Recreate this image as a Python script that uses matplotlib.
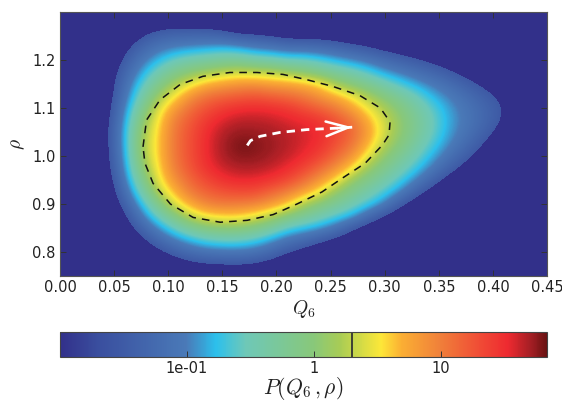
import numpy as np
import matplotlib
matplotlib.use('Agg')
import matplotlib.pyplot as plt
from matplotlib.cm import ScalarMappable
from matplotlib.colors import LinearSegmentedColormap, ListedColormap, LogNorm, Normalize

plt.rcParams['font.family'] = 'DejaVu Sans'
plt.rcParams['mathtext.fontset'] = 'cm'

# estimated 100*log10(P) on a grid, columns Q6 = 0, 0.015 .. 0.45, rows rho = 0.75, 0.775 .. 1.30
q_start, q_step = 0.0, 0.015
rho_start, rho_step = 0.75, 0.025
log_p_percent = [
    [-240, -240, -240, -240, -240, -240, -223, -207, -196, -190, -188, -187, -191, -201, -218, -237, -240, -240, -240, -240, -240, -240, -240, -240, -240, -240, -240, -240, -240, -240, -240],
    [-240, -240, -240, -240, -240, -214, -192, -175, -161, -154, -152, -150, -155, -166, -184, -201, -215, -232, -240, -240, -240, -240, -240, -240, -240, -240, -240, -240, -240, -240, -240],
    [-240, -240, -240, -240, -216, -187, -162, -140, -122, -111, -107, -106, -112, -127, -150, -165, -181, -197, -213, -232, -240, -240, -240, -240, -240, -240, -240, -240, -240, -240, -240],
    [-240, -240, -240, -228, -194, -162, -130, -103, -80, -62, -55, -55, -65, -87, -110, -125, -144, -162, -179, -200, -222, -240, -240, -240, -240, -240, -240, -240, -240, -240, -240],
    [-240, -240, -240, -211, -174, -135, -96, -58, -24, -4, 3, 2, -9, -30, -62, -75, -88, -112, -147, -170, -190, -210, -231, -240, -240, -240, -240, -240, -240, -240, -240],
    [-240, -240, -237, -197, -158, -107, -55, -8, 31, 53, 60, 61, 48, 28, 0, -21, -43, -62, -82, -122, -157, -179, -201, -224, -240, -240, -240, -240, -240, -240, -240],
    [-240, -240, -227, -185, -139, -80, -14, 38, 73, 96, 103, 100, 97, 83, 62, 23, -1, -23, -46, -69, -99, -147, -173, -194, -218, -240, -240, -240, -240, -240, -240],
    [-240, -240, -219, -176, -121, -48, 24, 66, 101, 117, 126, 131, 130, 115, 100, 78, 49, 9, -16, -41, -66, -97, -140, -169, -192, -213, -238, -240, -240, -240, -240],
    [-240, -240, -212, -169, -105, -21, 44, 86, 114, 133, 148, 154, 153, 146, 133, 112, 86, 55, 11, -13, -39, -67, -100, -137, -168, -188, -212, -235, -240, -240, -240],
    [-240, -240, -206, -162, -93, 0, 52, 99, 124, 147, 161, 168, 168, 163, 153, 136, 114, 89, 56, 13, -15, -43, -72, -105, -138, -165, -191, -213, -239, -240, -240],
    [-240, -240, -202, -158, -86, 14, 57, 103, 128, 151, 169, 177, 176, 171, 163, 153, 137, 114, 87, 45, 6, -23, -52, -83, -114, -142, -169, -194, -219, -240, -240],
    [-240, -240, -200, -156, -81, 18, 58, 104, 128, 152, 170, 180, 178, 173, 167, 158, 149, 128, 107, 68, 26, -4, -36, -67, -96, -123, -150, -177, -201, -224, -240],
    [-240, -240, -199, -155, -81, 13, 56, 103, 127, 150, 167, 174, 173, 170, 165, 159, 151, 135, 114, 81, 37, 6, -25, -56, -87, -110, -135, -159, -184, -207, -230],
    [-240, -240, -201, -158, -88, 0, 50, 98, 121, 142, 157, 165, 165, 163, 157, 152, 145, 126, 106, 70, 35, 6, -24, -54, -84, -105, -126, -148, -172, -193, -218],
    [-240, -240, -206, -163, -98, -22, 38, 79, 109, 127, 141, 149, 152, 149, 144, 130, 117, 102, 78, 48, 22, -5, -34, -62, -88, -108, -127, -147, -168, -189, -212],
    [-240, -240, -212, -168, -110, -45, 11, 50, 86, 107, 115, 120, 125, 118, 112, 102, 87, 71, 48, 21, -5, -29, -54, -81, -100, -119, -138, -155, -175, -194, -214],
    [-240, -240, -216, -171, -119, -66, -18, 17, 46, 69, 79, 86, 89, 80, 78, 70, 56, 19, 0, -20, -43, -66, -86, -103, -120, -139, -157, -173, -191, -207, -226],
    [-240, -240, -219, -176, -131, -88, -48, -17, 2, 16, 27, 36, 31, 28, 16, 3, -12, -29, -44, -64, -87, -102, -117, -131, -147, -165, -178, -194, -209, -228, -240],
    [-240, -240, -224, -184, -146, -108, -80, -56, -42, -34, -26, -25, -37, -42, -55, -55, -67, -82, -93, -107, -123, -137, -149, -161, -175, -189, -202, -218, -233, -240, -240],
    [-240, -240, -232, -195, -161, -131, -107, -95, -89, -85, -79, -84, -98, -104, -114, -115, -119, -127, -140, -149, -162, -171, -180, -192, -202, -215, -228, -240, -240, -240, -240],
    [-240, -240, -240, -209, -179, -155, -137, -129, -128, -127, -131, -146, -148, -154, -163, -164, -164, -171, -177, -182, -193, -203, -214, -222, -236, -240, -240, -240, -240, -240, -240],
    [-240, -240, -240, -227, -201, -180, -169, -166, -167, -168, -175, -185, -187, -190, -199, -204, -203, -207, -213, -219, -224, -233, -240, -240, -240, -240, -240, -240, -240, -240, -240],
    [-240, -240, -240, -240, -224, -208, -202, -202, -202, -204, -212, -223, -224, -226, -235, -240, -240, -240, -240, -240, -240, -240, -240, -240, -240, -240, -240, -240, -240, -240, -240],
]

contour_p = 2.0
contour_q = [.0767, .080, .0924, .111, .132, .157, .182, .206, .228, .252, .277, .296, .305, .304, .298, .282,
             .261, .242, .219, .197, .173, .148, .123, .102, .086, .0785, .0767]
contour_rho = [1.019, 1.075, 1.117, 1.149, 1.166, 1.174, 1.174, 1.170, 1.159, 1.145, 1.126, 1.100, 1.071, 1.044,
               1.023, .985, .954, .925, .900, .878, .866, .862, .872, .900, .943, .985, 1.019]

arrow_q = [.173, .176, .185, .203, .228, .256, .270]
arrow_rho = [1.022, 1.032, 1.041, 1.049, 1.055, 1.058, 1.060]

edge_log_p = -1.52   # below this the histogram is empty
p_min = 0.01
p_max = 69.0
cbar_ticks = [0.1, 1, 10]
cbar_labels = ['1e-01', '1', '10']
x_ticks = [0.00, 0.05, 0.10, 0.15, 0.20, 0.25, 0.30, 0.35, 0.40, 0.45]
y_ticks = [0.8, 0.9, 1.0, 1.1, 1.2]

navy = '#32308a'
cmap = LinearSegmentedColormap.from_list('density', [
    (0.00, navy), (0.08, '#3a4f9f'), (0.26, '#4a7ab8'), (0.32, '#2cc0ec'), (0.38, '#6ec8b8'),
    (0.52, '#88c87a'), (0.575, '#a8cc55'), (0.66, '#fde838'), (0.70, '#fbb033'), (0.78, '#f0803a'),
    (0.865, '#f04a35'), (0.92, '#ee2a30'), (0.965, '#a81f25'), (1.00, '#6a1212')], N=512)

log_lo, log_hi = np.log10(p_min), np.log10(p_max)
edge_frac = (edge_log_p - log_lo) / (log_hi - log_lo)
image_cmap = ListedColormap(cmap(np.linspace(edge_frac, 1, 512)))
image_cmap.set_under(navy)

log_p = np.array(log_p_percent) / 100
extent = [q_start - q_step / 2, q_start + q_step * (log_p.shape[1] - 0.5),
          rho_start - rho_step / 2, rho_start + rho_step * (log_p.shape[0] - 0.5)]

text_color = '#222222'
fig = plt.figure(figsize=(5.62, 4.01), dpi=100)
ax = fig.add_axes([60 / 562, 125 / 401, 487 / 562, 264 / 401])
ax.imshow(log_p, origin='lower', extent=extent, aspect='auto', interpolation='bicubic',
          cmap=image_cmap, norm=Normalize(edge_log_p, log_hi))

ax.plot(contour_q, contour_rho, color='#111111', lw=1.1, dashes=(5, 4))
ax.plot(arrow_q, arrow_rho, color='white', lw=2, dashes=(3, 2.2))
ax.annotate('', xy=(arrow_q[-1], arrow_rho[-1]), xytext=(arrow_q[-2], arrow_rho[-2]),
            arrowprops=dict(arrowstyle='->,head_length=1.6,head_width=0.53', color='white', lw=1.8,
                            mutation_scale=10, shrinkA=0, shrinkB=0))

ax.set_xlim(0, 0.45)
ax.set_ylim(0.75, 1.30)
ax.set_xticks(x_ticks, [f'{x:.2f}' for x in x_ticks])
ax.set_yticks(y_ticks, [f'{y:.1f}' for y in y_ticks])
ax.tick_params(direction='in', top=True, right=True, length=4, width=0.7, labelsize=10.5, color='#333333',
               labelcolor=text_color, pad=3)
ax.set_xlabel(r'$Q_6$', fontsize=14, labelpad=2, color=text_color)
ax.set_ylabel(r'$\rho$', fontsize=14, labelpad=4, color=text_color)
for spine in ax.spines.values():
    spine.set_linewidth(0.8)
    spine.set_color('#555555')

cax = fig.add_axes([60 / 562, 44 / 401, 487 / 562, 25 / 401])
cb = fig.colorbar(ScalarMappable(norm=LogNorm(p_min, p_max), cmap=cmap), cax=cax, orientation='horizontal')
cb.set_ticks(cbar_ticks, labels=cbar_labels)
cb.minorticks_off()
cax.tick_params(direction='in', length=4, width=0.7, labelsize=10.5, color='#333333', labelcolor=text_color, pad=3)
cb.outline.set_linewidth(0.8)
cb.outline.set_edgecolor('#444444')
cax.axvline(contour_p, color='#333333', lw=1.3)
cb.set_label(r'$P(Q_6\,,\rho)$', fontsize=15.5, labelpad=-1, color=text_color)

fig.savefig('out.png', dpi=100)
